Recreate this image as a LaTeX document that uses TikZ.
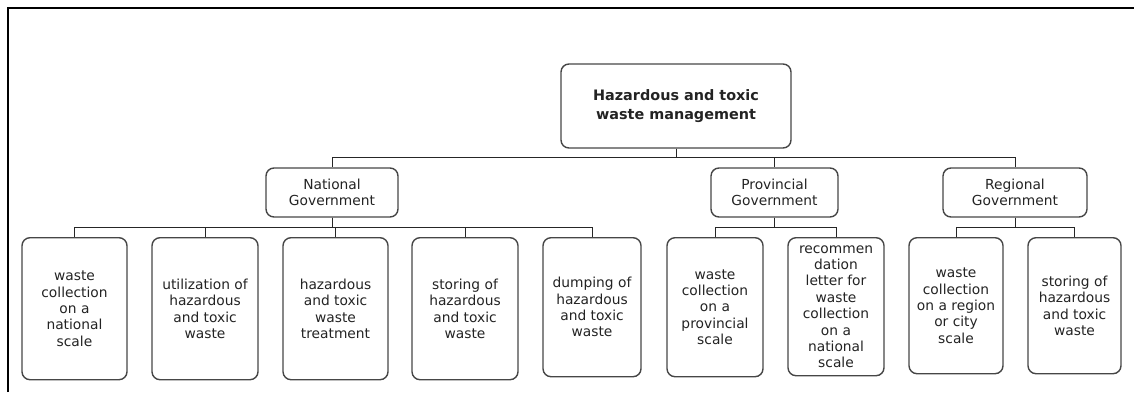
\documentclass[tikz,border=0pt]{standalone}
\usepackage{fontspec}
\setmainfont{DejaVu Sans}
\definecolor{boxline}{RGB}{70,70,70}
\definecolor{txt}{RGB}{35,35,35}
\usepackage{tikz}

\begin{document}
\begin{tikzpicture}[x=0.5pt,y=-0.5pt,
  box/.style={draw=boxline, line width=0.7pt, rounded corners=4pt, align=center,
    inner sep=0pt, text=txt, font=\fontsize{6.9pt}{8.2pt}\selectfont},
  head/.style={box, minimum height=24.5pt},
  leaf/.style={box, anchor=north},
  link/.style={draw=black!85, line width=0.5pt}]
  \useasboundingbox (0,0) rectangle (1134,392);
  %% outer frame (cropped)
  \draw[line width=1pt] (8,392) -- (8,7.5) -- (1134,7.5);
  %% top box
  \node[box, minimum width=115pt, minimum height=42pt,
    font=\bfseries\fontsize{7.2pt}{9.5pt}\selectfont] (root) at (676,106)
    {Hazardous and toxic\\waste management};
  %% government levels
  \node[head, minimum width=66pt]   (natl) at (332,192.5)   {National\\Government};
  \node[head, minimum width=63.5pt] (prov) at (774.5,192.5) {Provincial\\Government};
  \node[head, minimum width=72pt]   (regn) at (1015,192.5)  {Regional\\Government};
  %% tasks
  \node[leaf, minimum width=52.5pt, minimum height=71pt] (n1) at (74.5,237)
    {waste\\collection\\on a\\national\\scale};
  \node[leaf, minimum width=53pt, minimum height=71pt] (n2) at (205,237)
    {utilization of\\hazardous\\and toxic\\waste};
  \node[leaf, minimum width=52.5pt, minimum height=71pt] (n3) at (335.5,237)
    {hazardous\\and toxic\\waste\\treatment};
  \node[leaf, minimum width=53pt, minimum height=71pt] (n4) at (465,237)
    {storing of\\hazardous\\and toxic\\waste};
  \node[leaf, minimum width=49pt, minimum height=69.5pt] (n5) at (592,237)
    {dumping of\\hazardous\\and toxic\\waste};
  \node[leaf, minimum width=48pt, minimum height=69.5pt] (p1) at (715,237)
    {waste\\collection\\on a\\provincial\\scale};
  \node[leaf, minimum width=48pt, minimum height=69pt] (p2) at (836,237)
    {recommen\\dation\\letter for\\waste\\collection\\on a\\national\\scale};
  \node[leaf, minimum width=47pt, minimum height=68pt] (r1) at (956,237)
    {waste\\collection\\on a region\\or city\\scale};
  \node[leaf, minimum width=46.5pt, minimum height=68pt] (r2) at (1074.5,237)
    {storing of\\hazardous\\and toxic\\waste};
  %% connectors
  \foreach \g in {natl,prov,regn}
    \draw[link] (root.south) -- ++(0,9) -| (\g.north);
  \foreach \t in {n1,n2,n3,n4,n5}
    \draw[link] (natl.south) -- ++(0,10) -| (\t.north);
  \foreach \t in {p1,p2}
    \draw[link] (prov.south) -- ++(0,10) -| (\t.north);
  \foreach \t in {r1,r2}
    \draw[link] (regn.south) -- ++(0,10) -| (\t.north);
\end{tikzpicture}
\end{document}
